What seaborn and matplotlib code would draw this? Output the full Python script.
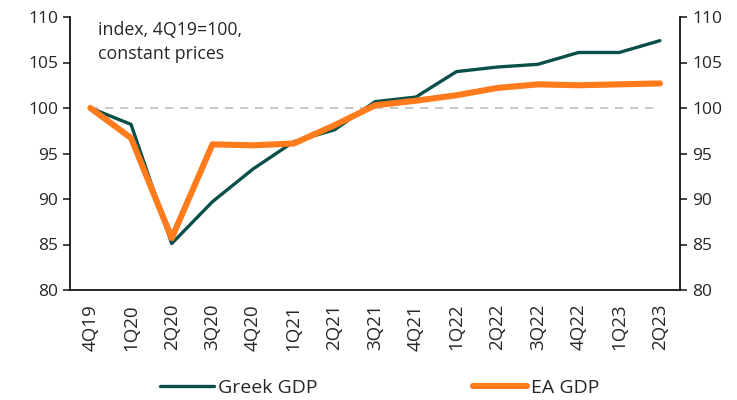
import pandas as pd
import numpy as np
import matplotlib
matplotlib.use("Agg")
import matplotlib.pyplot as plt
import seaborn as sns

# quarters on the x axis
quarters = ['4Q19', '1Q20', '2Q20', '3Q20', '4Q20', '1Q21', '2Q21', '3Q21',
            '4Q21', '1Q22', '2Q22', '3Q22', '4Q22', '1Q23', '2Q23']

# index, 4Q19=100, constant prices
greek_gdp = [100.0, 98.2, 85.1, 89.7, 93.3, 96.3, 97.6, 100.7,
             101.2, 104.0, 104.5, 104.8, 106.1, 106.1, 107.4]
ea_gdp = [100.0, 96.7, 85.7, 96.0, 95.9, 96.1, 98.1, 100.3,
          100.8, 101.4, 102.2, 102.6, 102.5, 102.6, 102.7]

sns.set_style("white")
plt.rcParams['font.family'] = ['Open Sans', 'DejaVu Sans']

df = pd.DataFrame({
    'pos': list(range(len(quarters))) * 2,
    'value': greek_gdp + ea_gdp,
    'series': ['Greek GDP'] * len(quarters) + ['EA GDP'] * len(quarters),
})

fig = plt.figure(figsize=(7.37, 4.0), dpi=100)
ax = fig.add_axes([0.095, 0.275, 0.828, 0.6825])

# reference line at 100
ax.plot([0, len(quarters) - 1], [100, 100], color='#bfbfbf', lw=1.2,
        ls=(0, (5, 4)), zorder=1)

sns.lineplot(data=df[df.series == 'Greek GDP'], x='pos', y='value', ax=ax,
             color='#0a4f4a', linewidth=2.4, label='Greek GDP', zorder=3)
sns.lineplot(data=df[df.series == 'EA GDP'], x='pos', y='value', ax=ax,
             color='#ff7b1c', linewidth=4.4, label='EA GDP', zorder=4,
             solid_capstyle='round')

ax.set_xlim(-0.5, len(quarters) - 0.5)
ax.set_ylim(80, 110)
ax.set_yticks(np.arange(80, 111, 5))
ax.set_xticks(range(len(quarters)))
ax.set_xticklabels(quarters, rotation=90, fontsize=13.5)
ax.set_xlabel('')
ax.set_ylabel('')
ax.tick_params(axis='y', labelsize=12.5, length=5, width=1.2, direction='out', left=True)
ax.tick_params(axis='x', length=0, pad=10)

ax2 = ax.twinx()
ax2.set_ylim(80, 110)
ax2.set_yticks(np.arange(80, 111, 5))
ax2.tick_params(axis='y', labelsize=12.5, length=5, width=1.2, direction='out', right=True)

for a in (ax, ax2):
    a.spines['top'].set_visible(False)
    for s in ('left', 'right', 'bottom'):
        a.spines[s].set_color('black')
        a.spines[s].set_linewidth(1.2)
ax.spines['right'].set_visible(False)
ax2.spines['left'].set_visible(False)
ax2.spines['bottom'].set_visible(False)

ax.text(0.046, 0.985, 'index, 4Q19=100,\nconstant prices', transform=ax.transAxes,
        fontsize=12.8, va='top', ha='left', linespacing=1.4)

handles, labels = ax.get_legend_handles_labels()
ax.get_legend().remove()
fig.legend(handles, labels, loc='center', bbox_to_anchor=(0.515, 0.03),
           ncol=2, frameon=False, fontsize=14, columnspacing=8.0,
           handlelength=2.8, handletextpad=0.2, borderpad=0)

fig.savefig('out.png', dpi=100)
